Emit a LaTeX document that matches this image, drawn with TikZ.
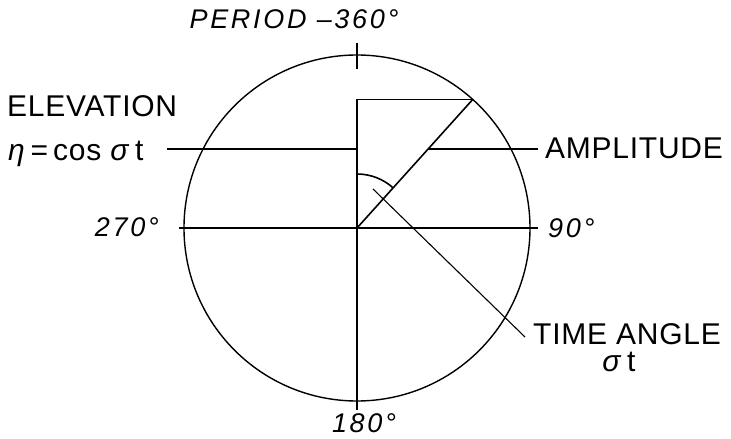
\documentclass[tikz,border=0pt]{standalone}
\usepackage{fontspec}
\setmainfont{Liberation Sans}
\usetikzlibrary{calc}

\begin{document}
\begin{tikzpicture}[
    x=1pt,y=1pt,
    rim/.style={line width=1.4pt},
    thin/.style={line width=1.1pt},
    thick/.style={line width=1.6pt},
    lbl/.style={font=\fontsize{30}{34}\selectfont\addfontfeature{LetterSpace=2.5},
                inner sep=0pt},
    deg/.style={font=\fontsize{27}{30}\selectfont\itshape\addfontfeature{LetterSpace=10},
                inner sep=0pt},
]

\useasboundingbox (-357,-211) rectangle (374,228);

\def\R{173}
\def\ang{48}
\def\hel{79}

% ---- Circle and axes -----------------------------------------------------
\coordinate (O) at (0,0);
\coordinate (P) at (\ang:\R);
\coordinate (Q) at (P -| O);
\draw[rim] (O) circle[radius=\R pt];
\draw[thin] (-178,0) -- (181,0);
\draw[thin] (Q) -- (0,-182);
\draw[thin] (0,185) -- (0,159);

% ---- Rotating vector -----------------------------------------------------
\draw[thin] (Q) -- (P);
\draw[thick] (O) -- (P);
\draw[thick] (0,54) arc[start angle=90,end angle=\ang,radius=54pt];

% ---- Elevation / amplitude leaders ---------------------------------------
\coordinate (A) at ({\hel/tan(\ang)},\hel);
\draw[thin] (-190,\hel) -- (0,\hel);
\draw[thin] (A) -- (181,\hel);

% ---- Time angle leader ---------------------------------------------------
\coordinate (T0) at (16,39);
\coordinate (T1) at (168,-109);
\draw[thin] (T0) -- (T1);

% ---- Labels --------------------------------------------------------------
\node[deg] (period) at (-63,209) {PERIOD –360°};
\node[lbl,anchor=base west] (elev) at (-350,111) {ELEVATION};
\node[lbl,anchor=base west] (eta) at (-349,67)
    {\textit{η}\,=\,cos \textit{σ}\,t};
\node[deg,anchor=east] (deg270) at (-198,1) {270°};
\node[deg,anchor=west] (deg90) at (191,0) {90°};
\node[deg] (deg180) at (7,-195) {180°};
\node[lbl,anchor=west] (ampl) at (188,80) {AMPLITUDE};
\node[lbl,anchor=west] (tangle) at (176,-106) {TIME ANGLE};
\node[lbl] (sigt) at (262,-134) {\textit{σ}\,t};

\end{tikzpicture}
\end{document}
